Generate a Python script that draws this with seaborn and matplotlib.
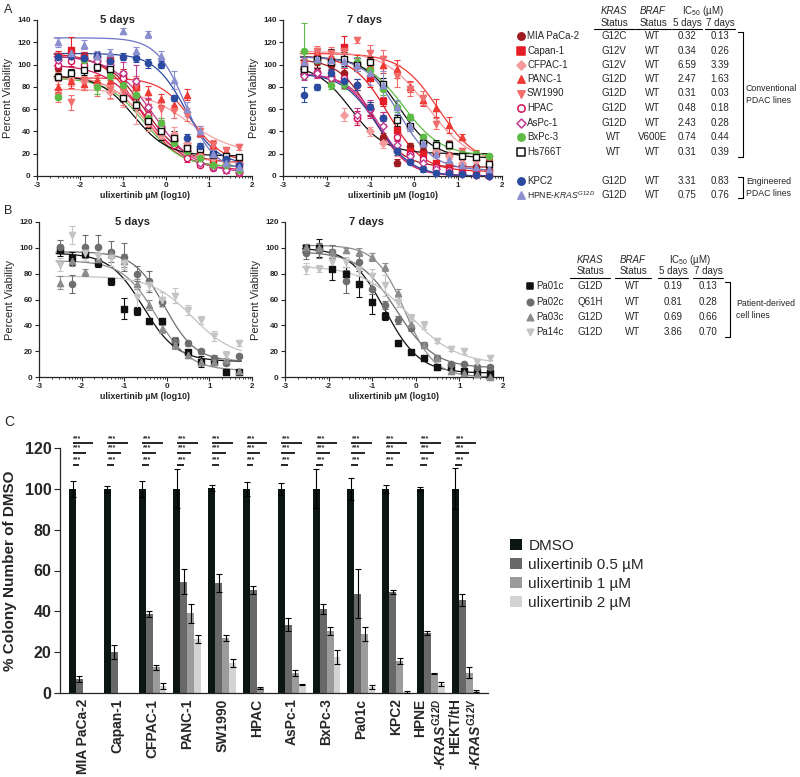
import numpy as np
import pandas as pd
import matplotlib
matplotlib.use("Agg")
import matplotlib.pyplot as plt
import seaborn as sns
from matplotlib.patches import Patch
from matplotlib import font_manager as fm

sns.set_style("ticks")
plt.rcParams["font.family"] = ["Liberation Sans", "DejaVu Sans"]
plt.rcParams["axes.unicode_minus"] = False
plt.rcParams["mathtext.fontset"] = "custom"
plt.rcParams["mathtext.rm"] = "Liberation Sans"
plt.rcParams["mathtext.it"] = "Liberation Sans:italic"
plt.rcParams["mathtext.bf"] = "Liberation Sans:italic:bold"

_names = {f.name for f in fm.fontManager.ttflist}
HAS_NARROW = "Liberation Sans Narrow" in _names
NARROW = ["Liberation Sans Narrow", "Liberation Sans", "DejaVu Sans"] if HAS_NARROW else ["Liberation Sans", "DejaVu Sans"]

# ---------------- shared dose axis (log10 uM) ----------------
log_conc = [-2.515, -2.214, -1.913, -1.612, -1.311, -1.010, -0.709, -0.408,
            -0.107, 0.194, 0.495, 0.796, 1.097, 1.398, 1.699]

# ---------------- Panel A: cell lines ----------------
linesA = ["MIA PaCa-2", "Capan-1", "CFPAC-1", "PANC-1", "SW1990", "HPAC",
          "AsPc-1", "BxPc-3", "Hs766T", "KPC2", r"HPNE-$\mathit{KRAS}^{G12D}$"]
krasA = ["G12C", "G12V", "G12V", "G12D", "G12D", "G12D", "G12D", "WT", "WT", "G12D", "G12D"]
brafA = ["WT", "WT", "WT", "WT", "WT", "WT", "WT", "V600E", "WT", "WT", "WT"]
ic50A_5d = ["0.32", "0.34", "6.59", "2.47", "0.31", "0.48", "2.43", "0.74", "0.31", "3.31", "0.75"]
ic50A_7d = ["0.13", "0.26", "3.39", "1.63", "0.03", "0.18", "0.28", "0.44", "0.39", "0.83", "0.76"]

# 5 days viability (%)
a5_mia = [97, 110, 108, 107, 103, 88, 72, 50, 43, 32, 27, 20, 18, 15, 12]
a5_capan = [108, 113, 107, 105, 104, 90, 80, 52, 42, 33, 25, 18, 14, 10, 8]
a5_cfpac = [88, 87, 85, 82, 75, 72, 62, 48, 37, 38, 30, 18, 16, 13, 12]
a5_panc = [80, 85, 83, 86, 85, 86, 80, 75, 69, 64, 73, 39, 28, 22, 16]
a5_sw = [72, 66, 85, 80, 78, 76, 82, 62, 60, 58, 55, 40, 28, 23, 26]
a5_hpac = [100, 103, 100, 98, 95, 88, 72, 55, 40, 28, 16, 10, 7, 5, 3]
a5_aspc = [104, 108, 106, 103, 100, 92, 85, 62, 45, 32, 22, 12, 8, 5, 4]
a5_bxpc = [71, 92, 104, 80, 90, 82, 73, 52, 48, 30, 22, 16, 10, 10, 5]
a5_hs = [89, 92, 95, 98, 96, 70, 64, 49, 40, 34, 25, 24, 19, 18, 17]
a5_kpc = [107, 108, 106, 108, 103, 107, 106, 101, 100, 70, 34, 27, 20, 15, 10]
a5_hpne = [120, 110, 118, 108, 110, 130, 112, 127, 108, 86, 60, 40, 20, 12, 8]
a5_err_mia = [3, 4, 3, 3, 4, 5, 6, 6, 4, 3, 3, 3, 2, 2, 2]
a5_err_capan = [4, 12, 4, 4, 4, 6, 8, 6, 4, 4, 3, 4, 3, 2, 2]
a5_err_cfpac = [5, 6, 5, 8, 6, 10, 15, 8, 3, 6, 5, 4, 3, 3, 2]
a5_err_panc = [5, 6, 6, 5, 5, 8, 10, 6, 5, 5, 5, 4, 3, 2, 2]
a5_err_sw = [6, 7, 8, 8, 8, 12, 8, 6, 8, 6, 6, 5, 4, 3, 3]
a5_err_hpac = [3, 4, 4, 4, 4, 6, 6, 5, 4, 3, 3, 2, 2, 2, 1]
a5_err_aspc = [4, 5, 5, 6, 8, 10, 15, 8, 5, 4, 3, 3, 2, 2, 1]
a5_err_bxpc = [2, 4, 5, 6, 4, 5, 6, 5, 4, 3, 3, 3, 2, 2, 2]
a5_err_hs = [3, 4, 4, 4, 4, 3, 5, 6, 8, 6, 3, 3, 3, 3, 2]
a5_err_kpc = [3, 4, 3, 3, 3, 3, 4, 4, 3, 3, 4, 3, 3, 3, 2]
a5_err_hpne = [4, 4, 4, 4, 4, 3, 4, 3, 4, 8, 6, 5, 3, 3, 2]
# fitted curve parameters (top, bottom, logIC50, hill)
a5_top = [108, 110, 90, 88, 78, 100, 108, 88, 90, 110, 124]
a5_bottom = [12, 8, 12, 12, 20, 5, 3, 8, 18, 10, 5]
a5_x50 = [-0.5, -0.6, -0.5, 0.6, 0.5, -0.45, -0.3, -0.5, -0.75, 0.45, 0.45]
a5_hill = [1.0, 1.0, 1.0, 1.2, 0.8, 0.9, 0.9, 1.0, 1.1, 1.2, 1.3]

# 7 days viability (%)
a7_mia = [95, 102, 100, 92, 82, 60, 35, 12, 27, 22, 20, 19, 10, 8, 5]
a7_capan = [100, 106, 103, 116, 100, 88, 67, 41, 22, 20, 12, 10, 5, 4, 3]
a7_cfpac = [98, 93, 90, 55, 52, 40, 30, 22, 19, 30, 22, 18, 12, 14, 11]
a7_panc = [97, 110, 108, 105, 103, 100, 100, 96, 80, 68, 61, 46, 35, 20, 17]
a7_sw = [100, 112, 110, 112, 122, 110, 105, 90, 78, 70, 47, 28, 22, 18, 15]
a7_hpac = [93, 93, 90, 88, 52, 60, 52, 35, 20, 15, 8, 5, 3, 1, 0]
a7_aspc = [90, 92, 88, 85, 55, 60, 45, 28, 18, 12, 6, 4, 2, 1, 0]
a7_bxpc = [112, 104, 82, 83, 102, 95, 78, 62, 53, 35, 28, 27, 20, 20, 18]
a7_hs = [96, 105, 102, 105, 100, 102, 83, 50, 45, 30, 28, 28, 18, 17, 11]
a7_kpc = [73, 80, 92, 85, 82, 62, 52, 22, 13, 6, 3, 3, 2, 1, 0]
a7_hpne = [102, 105, 104, 103, 100, 92, 82, 62, 45, 30, 20, 14, 10, 8, 6]
a7_err_mia = [4, 4, 5, 5, 5, 5, 4, 3, 3, 3, 2, 2, 2, 2, 2]
a7_err_capan = [5, 5, 10, 10, 6, 8, 4, 4, 3, 3, 2, 2, 2, 1, 1]
a7_err_cfpac = [5, 5, 6, 6, 4, 4, 5, 4, 3, 4, 3, 3, 2, 2, 2]
a7_err_panc = [6, 5, 6, 8, 6, 6, 8, 8, 5, 5, 8, 7, 3, 3, 2]
a7_err_sw = [5, 5, 6, 6, 3, 8, 8, 10, 6, 6, 5, 4, 3, 3, 2]
a7_err_hpac = [4, 4, 5, 5, 6, 6, 5, 4, 3, 3, 2, 2, 1, 1, 1]
a7_err_aspc = [4, 4, 5, 6, 6, 8, 12, 4, 3, 3, 2, 2, 1, 1, 1]
a7_err_bxpc = [25, 4, 4, 5, 5, 5, 5, 5, 3, 3, 3, 3, 2, 2, 1]
a7_err_hs = [5, 8, 12, 6, 6, 5, 5, 5, 5, 4, 4, 3, 3, 3, 2]
a7_err_kpc = [7, 3, 4, 5, 5, 4, 3, 3, 2, 2, 1, 1, 1, 1, 1]
a7_err_hpne = [4, 4, 4, 5, 6, 10, 12, 6, 5, 4, 3, 3, 2, 2, 2]
a7_top = [105, 108, 100, 110, 112, 92, 92, 107, 107, 92, 107]
a7_bottom = [8, 4, 20, 10, 12, 0, 0, 18, 16, 0, 5]
a7_x50 = [-1.0, -0.6, -1.45, 0.55, 0.3, -0.85, -0.8, -0.25, -0.35, -0.85, -0.35]
a7_hill = [1.2, 1.1, 1.1, 1.0, 0.9, 1.2, 1.2, 1.0, 1.1, 1.1, 1.1]

# ---------------- Panel B: patient-derived lines ----------------
linesB = ["Pa01c", "Pa02c", "Pa03c", "Pa14c"]
krasB = ["G12D", "Q61H", "G12D", "G12D"]
brafB = ["WT", "WT", "WT", "WT"]
ic50B_5d = ["0.19", "0.81", "0.69", "3.86"]
ic50B_7d = ["0.13", "0.28", "0.66", "0.70"]

b5_pa01 = [98, 92, 95, 88, 74, 53, 51, 43, 43, 27, 19, 12, 12, 4, 4]
b5_pa02 = [101, 72, 101, 101, 97, 93, 80, 74, 58, 28, 26, 20, 15, 11, 16]
b5_pa03 = [73, 90, 81, 91, 95, 90, 72, 56, 37, 25, 17, 12, 12, 13, 5]
b5_pa14 = [87, 110, 96, 94, 92, 88, 62, 71, 60, 63, 52, 44, 32, 17, 26]
b5_err_pa01 = [4, 5, 5, 3, 3, 8, 3, 2, 2, 3, 2, 4, 2, 2, 1]
b5_err_pa02 = [5, 7, 9, 9, 8, 11, 6, 8, 3, 3, 2, 2, 2, 2, 1]
b5_err_pa03 = [5, 4, 3, 4, 3, 5, 4, 4, 3, 3, 2, 2, 2, 2, 1]
b5_err_pa14 = [5, 7, 6, 6, 6, 4, 10, 4, 6, 6, 4, 3, 4, 3, 2]
b5_top = [96, 97, 90, 78]
b5_bottom = [12, 12, 5, 15]
b5_x50 = [-0.55, -0.05, -0.25, 0.6]
b5_hill = [1.1, 1.2, 1.1, 0.9]

b7_pa01 = [100, 100, 84, 80, 72, 58, 47, 26, 19, 15, 8, 8, 5, 4, 3]
b7_pa02 = [96, 98, 97, 74, 89, 68, 56, 44, 38, 25, 15, 10, 10, 8, 8]
b7_pa03 = [101, 100, 97, 98, 97, 93, 85, 65, 41, 25, 15, 5, 3, 2, 0]
b7_pa14 = [84, 84, 89, 89, 83, 78, 71, 58, 46, 40, 28, 22, 20, 12, 15]
b7_err_pa01 = [3, 7, 9, 5, 10, 9, 3, 2, 1, 1, 1, 1, 1, 1, 1]
b7_err_pa02 = [5, 6, 5, 9, 5, 4, 3, 3, 2, 2, 2, 1, 1, 1, 1]
b7_err_pa03 = [2, 3, 2, 2, 3, 3, 3, 3, 2, 2, 2, 2, 1, 1, 1]
b7_err_pa14 = [4, 3, 4, 4, 5, 6, 8, 4, 3, 3, 2, 2, 2, 2, 2]
b7_top = [100, 97, 102, 86]
b7_bottom = [3, 7, 0, 10]
b7_x50 = [-0.7, -0.45, -0.25, -0.15]
b7_hill = [1.1, 1.0, 1.3, 0.8]

# ---------------- Panel C: colony formation ----------------
linesC = ["MIA PaCa-2", "Capan-1", "CFPAC-1", "PANC-1", "SW1990", "HPAC", "AsPc-1",
          "BxPc-3", "Pa01c", "KPC2", "HPNE\n-$\\mathbf{KRAS}^{\\mathbf{G12D}}$",
          "HEKT/tH\n-$\\mathbf{KRAS}^{\\mathbf{G12V}}$"]
treatments = ["DMSO", "ulixertinib 0.5 µM", "ulixertinib 1 µM", "ulixertinib 2 µM"]
c_dmso = [100, 100, 100, 100, 100.5, 100, 100, 100, 100, 100, 100, 100]
c_05 = [7, 20, 38.5, 54.5, 54, 50.5, 33.5, 41, 48.5, 49.5, 29.5, 45.5]
c_1 = [0, 0, 12.5, 39, 27, 2.5, 10, 30.5, 29, 15.5, 9.5, 10]
c_2 = [0, 0, 3.5, 26.5, 14.5, 0, 4, 17.5, 3, 0.5, 4.5, 1]
c_err_dmso = [4, 1.5, 4, 9.5, 1.5, 3.5, 3, 9.5, 5.5, 2, 1, 10]
c_err_05 = [1.5, 3.5, 1.5, 6, 4.5, 2, 3, 2.5, 12, 1, 1, 3]
c_err_1 = [0, 0, 1, 4.5, 1.5, 0.5, 1.5, 2, 3.5, 1.5, 0.3, 2.5]
c_err_2 = [0, 0, 1.5, 2, 2, 0, 0.3, 3.5, 1, 0.5, 1, 0.7]

# ---------------- styles ----------------
colA = ["#9e1c20", "#e41e26", "#f59a9a", "#ef3b36", "#f26d6d", "#d4145a",
        "#c2388f", "#5dbb46", "#111111", "#2b4ba0", "#8b8fcf"]
mkA = ["o", "s", "D", "^", "v", "o", "D", "o", "s", "o", "^"]
openA = [False, False, False, False, False, True, True, False, True, False, False]
curveA5 = ["#9e1c20", "#e41e26", "#f07a7a", "#ef3b36", "#f5a3a3", "#d4145a",
           "#c2388f", "#5dbb46", "#111111", "#2b4ba0", "#6f74c7"]
curveA7 = ["#9e1c20", "#e41e26", "#111111", "#ef3b36", "#f59a9a", "#d4145a",
           "#c2388f", "#5dbb46", "#111111", "#2b4ba0", "#6f74c7"]
colB = ["#111111", "#6e6e6e", "#8c8c8c", "#c4c4c4"]
mkB = ["s", "o", "^", "v"]
openB = [False, False, False, False]
bar_colors = ["#0b1512", "#686868", "#9b9b9b", "#d3d3d3"]

W, H = 800, 777
fig = plt.figure(figsize=(W / 100, H / 100), dpi=100)


def px_axes(left, top, right, bottom):
    return fig.add_axes([left / W, 1 - bottom / H, (right - left) / W, (bottom - top) / H])


# overlay for tables / labels in pixel coordinates
ov = fig.add_axes([0, 0, 1, 1])
ov.set_xlim(0, W)
ov.set_ylim(H, 0)
ov.axis("off")


def draw_dose(ax, vals, errs, tops, bots, x50s, hills, cols, curve_cols, mks, opens, ymax, title, tx):
    grid = np.linspace(-2.6, 1.75, 240)
    for i in range(len(vals)):
        fit = bots[i] + (tops[i] - bots[i]) / (1 + 10 ** ((grid - x50s[i]) * hills[i]))
        sns.lineplot(x=grid, y=fit, ax=ax, color=curve_cols[i], lw=0.9, zorder=2)
    for i in range(len(vals)):
        ax.errorbar(log_conc, vals[i], yerr=errs[i], fmt="none", ecolor=cols[i],
                    elinewidth=0.8, capsize=2, capthick=0.8, zorder=3, clip_on=False)
        face = "white" if opens[i] else cols[i]
        sz = 14 if mks[i] == "D" else 20
        sns.scatterplot(x=log_conc, y=vals[i], ax=ax, marker=mks[i], s=sz, color=face,
                        edgecolor=cols[i], linewidth=1.0, zorder=4, clip_on=False)
    ax.set_xlim(-3, 2)
    ax.set_ylim(0, ymax)
    ax.set_xticks([-3, -2, -1, 0, 1, 2])
    ax.set_xticklabels(["-3", "-2", "-1", "0", "1", "2"])
    minor = [d + np.log10(k) for d in range(-3, 2) for k in range(2, 10)]
    ax.set_xticks(minor, minor=True)
    ax.set_yticks(list(range(0, ymax + 1, 20)))
    sns.despine(ax=ax)
    for s in ["left", "bottom"]:
        ax.spines[s].set_linewidth(0.9)
    ax.tick_params(labelsize=5.8, length=3, width=0.8, pad=1.5)
    ax.tick_params(which="minor", length=1.6, width=0.6)
    for lbl in ax.get_xticklabels() + ax.get_yticklabels():
        lbl.set_fontweight("bold")
    ax.set_xlabel("ulixertinib µM (log10)", fontsize=6.4, fontweight="bold", labelpad=1)
    ax.set_ylabel("Percent Viability", fontsize=8, labelpad=3)
    ax.text(tx, ymax, title, fontsize=8, fontweight="bold", ha="center", va="center")


valsA5 = [a5_mia, a5_capan, a5_cfpac, a5_panc, a5_sw, a5_hpac, a5_aspc, a5_bxpc, a5_hs, a5_kpc, a5_hpne]
errsA5 = [a5_err_mia, a5_err_capan, a5_err_cfpac, a5_err_panc, a5_err_sw, a5_err_hpac,
          a5_err_aspc, a5_err_bxpc, a5_err_hs, a5_err_kpc, a5_err_hpne]
valsA7 = [a7_mia, a7_capan, a7_cfpac, a7_panc, a7_sw, a7_hpac, a7_aspc, a7_bxpc, a7_hs, a7_kpc, a7_hpne]
errsA7 = [a7_err_mia, a7_err_capan, a7_err_cfpac, a7_err_panc, a7_err_sw, a7_err_hpac,
          a7_err_aspc, a7_err_bxpc, a7_err_hs, a7_err_kpc, a7_err_hpne]
valsB5 = [b5_pa01, b5_pa02, b5_pa03, b5_pa14]
errsB5 = [b5_err_pa01, b5_err_pa02, b5_err_pa03, b5_err_pa14]
valsB7 = [b7_pa01, b7_pa02, b7_pa03, b7_pa14]
errsB7 = [b7_err_pa01, b7_err_pa02, b7_err_pa03, b7_err_pa14]

axA5 = px_axes(37, 20, 252, 176)
draw_dose(axA5, valsA5, errsA5, a5_top, a5_bottom, a5_x50, a5_hill, colA, curveA5, mkA, openA, 140, "5 days", -1.12)
axA7 = px_axes(283, 20, 502, 176)
draw_dose(axA7, valsA7, errsA7, a7_top, a7_bottom, a7_x50, a7_hill, colA, curveA7, mkA, openA, 140, "7 days", -1.13)
axB5 = px_axes(39, 222, 252, 377)
draw_dose(axB5, valsB5, errsB5, b5_top, b5_bottom, b5_x50, b5_hill, colB, colB, mkB, openB, 120, "5 days", -0.8)
axB7 = px_axes(285, 222, 503, 377)
draw_dose(axB7, valsB7, errsB7, b7_top, b7_bottom, b7_x50, b7_hill, colB, colB, mkB, openB, 120, "7 days", -1.14)

# ---------------- tables ----------------
TFS = 7


def table(xs, y_head, rows_y, names, kras, braf, ic5, ic7, cols, mks, opens, mx, nx, msz, ic_center):
    kx, bx, d5x, d7x = xs
    ov.text(kx, y_head, "KRAS", style="italic", fontsize=TFS, ha="center", va="center")
    ov.text(bx, y_head, "BRAF", style="italic", fontsize=TFS, ha="center", va="center")
    ov.text(ic_center, y_head, "IC$_{50}$ (µM)", fontsize=TFS, ha="center", va="center")
    y2 = y_head + 11.5
    for cx, lab, hw in [(kx, "Status", 20), (bx, "Status", 18), (d5x, "5 days", 15), (d7x, "7 days", 15)]:
        ov.text(cx, y2, lab, fontsize=TFS, ha="center", va="center")
        ov.plot([cx - hw, cx + hw], [y2 + 6, y2 + 6], color="black", lw=0.8)
    for i, y in enumerate(rows_y):
        face = "white" if opens[i] else cols[i]
        ov.scatter([mx], [y], marker=mks[i], s=msz * (0.75 if mks[i] == "D" else 1),
                   facecolor=face, edgecolor=cols[i], linewidth=1.1, zorder=5)
        nfs = 6.2 if "$" in names[i] else TFS
        ov.text(nx, y, names[i], fontsize=nfs, ha="left", va="center")
        ov.text(kx, y, kras[i], fontsize=TFS, ha="center", va="center")
        ov.text(bx, y, braf[i], fontsize=TFS, ha="center", va="center")
        ov.text(d5x, y, ic5[i], fontsize=TFS, ha="center", va="center")
        ov.text(d7x, y, ic7[i], fontsize=TFS, ha="center", va="center")


def bracket(x, y0, y1, lines, tx):
    ov.plot([x - 5, x, x, x - 5], [y0, y0, y1, y1], color="black", lw=0.8)
    n = len(lines)
    mid = (y0 + y1) / 2
    for k, t in enumerate(lines):
        ov.text(tx, mid + (k - (n - 1) / 2) * 12, t, fontsize=6.3, ha="left", va="center")


rowsA_y = [36, 50.5, 65, 79, 93.5, 108, 122.5, 137, 152, 181, 195]
table((614, 653, 687, 720), 11, rowsA_y, linesA, krasA, brafA, ic50A_5d, ic50A_7d,
      colA, mkA, openA, 521, 527, 28, 703)
bracket(743, 32, 157, ["Conventional", "PDAC lines"], 746)
bracket(743, 177, 198, ["Engineered", "PDAC lines"], 746)

rowsB_y = [286, 302, 317, 332]
table((590, 633, 673, 708), 260, rowsB_y, linesB, krasB, brafB, ic50B_5d, ic50B_7d,
      colB, mkB, openB, 530, 536, 22, 690)
bracket(730, 282, 337, ["Patient-derived", "cell lines"], 736)

# panel letters
ov.text(4, 10, "A", fontsize=9, ha="left", va="center")
ov.text(4, 211, "B", fontsize=9, ha="left", va="center")
ov.text(4, 422, "C", fontsize=10, ha="left", va="center")

# ---------------- Panel C ----------------
axC = px_axes(60, 448, 488, 693)
vals_by_treat = [c_dmso, c_05, c_1, c_2]
errs_by_treat = [c_err_dmso, c_err_05, c_err_1, c_err_2]
dfC = pd.DataFrame({
    "line": [l for t in range(4) for l in linesC],
    "treat": [treatments[t] for t in range(4) for _ in linesC],
    "val": [v for t in range(4) for v in vals_by_treat[t]],
})
sns.barplot(data=dfC, x="line", y="val", hue="treat", order=linesC, hue_order=treatments,
            palette=bar_colors, width=0.8, errorbar=None, saturation=1, ax=axC,
            legend=False, linewidth=0)
bar_conts = list(axC.containers)[:4]
centers = [[p.get_x() + p.get_width() / 2 for p in cont.patches] for cont in bar_conts]
for t in range(4):
    for i in range(len(linesC)):
        v = vals_by_treat[t][i]
        e = errs_by_treat[t][i]
        if e > 0:
            axC.errorbar([centers[t][i]], [v], yerr=[e], fmt="none", ecolor="black",
                         elinewidth=0.8, capsize=2.2, capthick=0.8, zorder=4)

sig_y = [111.7, 117.6, 122.4]
for i in range(len(linesC)):
    xd = centers[0][i]
    for k in range(3):
        xe = centers[k + 1][i]
        axC.plot([xd, xe], [sig_y[k], sig_y[k]], color="black", lw=1.2, clip_on=False,
                 solid_capstyle="butt")
        axC.text(xd + 0.02, sig_y[k] + 0.6, "***", fontsize=5, fontweight="bold",
                 ha="left", va="bottom", clip_on=False)

axC.set_xlim(-0.66, 11.64)
axC.set_ylim(0, 120)
axC.set_yticks([0, 20, 40, 60, 80, 100, 120])
sns.despine(ax=axC)
for s in ["left", "bottom"]:
    axC.spines[s].set_linewidth(0.9)
yfs = 13 if HAS_NARROW else 11.5
xfs = 12 if HAS_NARROW else 10
axC.tick_params(axis="y", length=4, width=0.8, pad=2)
axC.tick_params(axis="x", length=0, width=0.8, pad=4)
for lbl in axC.get_yticklabels():
    lbl.set_fontweight("bold")
    lbl.set_fontsize(yfs)
    lbl.set_family(NARROW)
axC.set_xticks(range(len(linesC)))
axC.set_xticklabels(linesC, rotation=90, fontsize=xfs, fontweight="bold", family=NARROW)
for lbl in axC.get_xticklabels():
    lbl.set_multialignment("right")
axC.set_xlabel("")
axC.set_ylabel("% Colony Number of DMSO", fontsize=11, fontweight="bold", family=NARROW, labelpad=6)

handles = [Patch(facecolor=c, edgecolor="none") for c in bar_colors]
fig.legend(handles, treatments, loc="upper left", bbox_to_anchor=(504 / W, 1 - 533 / H),
           frameon=False, fontsize=11, handlelength=0.75, handleheight=0.75,
           handletextpad=0.45, labelspacing=0.32, borderaxespad=0)

fig.savefig("out.png", dpi=100)
